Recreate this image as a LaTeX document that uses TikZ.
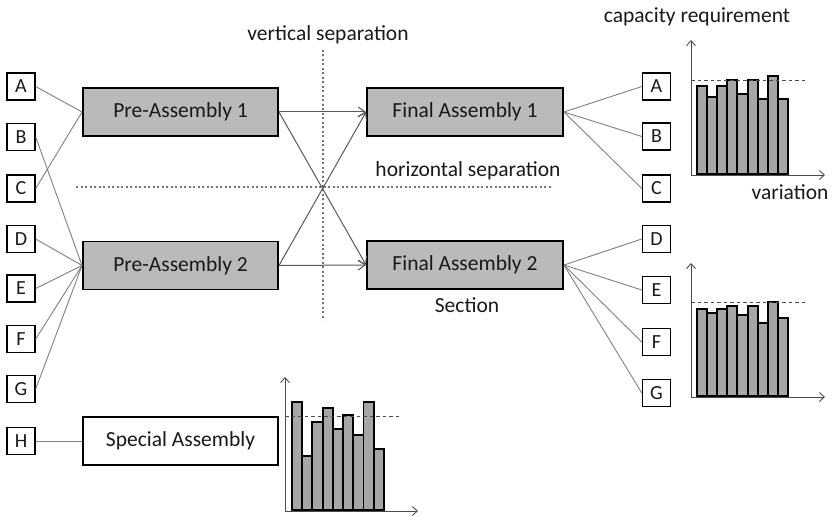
\documentclass[tikz,border=0pt]{standalone}
\usepackage{fontspec}
\setmainfont{Carlito}
\usetikzlibrary{arrows.meta}
\begin{document}
\begin{tikzpicture}[x=1pt,y=-1pt,
  every node/.style={font=\fontsize{21.5}{24}\selectfont, text=black!90},
  letterbox/.style={draw=black, line width=1.4pt, fill=white, minimum width=28pt, minimum height=27pt, inner sep=0pt, font=\fontsize{20}{22}\selectfont},
  stagebox/.style={draw=black, line width=1.9pt, fill=black!27, minimum width=195pt, minimum height=48pt, inner sep=0pt},
  feed/.style={draw=black!50, line width=0.9pt},
  flow/.style={draw=black!65, line width=1pt, -{Straight Barb[length=7pt,width=10pt]}},
  sep/.style={draw=black!55, line width=1.1pt, dash pattern=on 2pt off 2.5pt},
  limit/.style={draw=black!70, line width=0.9pt, dash pattern=on 3.5pt off 3pt},
  axis/.style={draw=black!70, line width=0.9pt, -{Straight Barb[length=5pt,width=9pt]}},
  bar/.style={draw=black, line width=1.9pt, fill=black!35}
]
\useasboundingbox (0,0) rectangle (833,516);

% separation lines and their labels
\draw[sep] (323,50) -- (323,320);
\draw[sep] (76,187) -- (552,187);
\node (vsep) at (328,35) {vertical separation};
\node (hsep) at (468,171) {horizontal separation};

% input parts
\node[letterbox] (la) at (21,86.5) {A};
\node[letterbox] (lb) at (21,137) {B};
\node[letterbox] (lc) at (21,188.5) {C};
\node[letterbox] (ld) at (21,239) {D};
\node[letterbox] (le) at (21,288.5) {E};
\node[letterbox] (lf) at (21,339) {F};
\node[letterbox] (lg) at (21,389) {G};
\node[letterbox] (lh) at (21,441) {H};

% assembly stages
\node[stagebox] (pre1) at (180.5,112) {Pre-Assembly 1};
\node[stagebox] (pre2) at (180.5,265.5) {Pre-Assembly 2};
\node[stagebox, fill=white] (spec) at (180.5,441) {Special Assembly};
\node[stagebox, minimum width=196pt] (fin1) at (465,112) {Final Assembly 1};
\node[stagebox, minimum width=196pt] (fin2) at (465,265) {Final Assembly 2};
\node (sect) at (467,305) {Section};

% output variants
\node[letterbox] (ra) at (656.5,86.5) {A};
\node[letterbox] (rb) at (656.5,136.5) {B};
\node[letterbox] (rc) at (656.5,188.5) {C};
\node[letterbox] (rd) at (656.5,239) {D};
\node[letterbox] (re) at (656.5,290) {E};
\node[letterbox] (rf) at (656.5,342) {F};
\node[letterbox] (rg) at (656.5,393) {G};

% feeding lines
\draw[feed] (la.east) -- (pre1.west);
\draw[feed] (lc.east) -- (pre1.west);
\foreach \p in {lb,ld,le,lf,lg} \draw[feed] (\p.east) -- (pre2.west);
\draw[feed] (lh.east) -- (spec.west);
\foreach \p in {ra,rb,rc} \draw[feed] (fin1.east) -- (\p.west);
\foreach \p in {rd,re,rf,rg} \draw[feed] (fin2.east) -- (\p.west);

% material flow between stages
\draw[flow] (pre1.east) -- (fin1.west);
\draw[flow] (pre2.east) -- (fin2.west);
\draw[flow] (pre1.east) -- (fin2.west);
\draw[flow] (pre2.east) -- (fin1.west);

% capacity chart for final assembly 1
\foreach \t [count=\i from 0] in {86,96.7,86,80,94,80,99.3,76,99}
  \draw[bar] (697+\i*10.11,174) rectangle (697+\i*10.11+10.11,\t);
\draw[axis] (691,175) -- (691,40);
\draw[axis] (691,175) -- (825,175);
\draw[limit] (691,80) -- (807,80);
\node (cap) at (697,17) {capacity requirement};
\node (var) at (790,192) {variation};

% capacity chart for final assembly 2
\foreach \t [count=\i from 0] in {309,313,309,306,315,306,323,302,318}
  \draw[bar] (697+\i*10.11,396) rectangle (697+\i*10.11+10.11,\t);
\draw[axis] (691,397) -- (691,263);
\draw[axis] (691,397) -- (825,397);
\draw[limit] (691,302) -- (807,302);

% capacity chart for special assembly
\foreach \t [count=\i from 0] in {401.7,456,422,408,429,415,435,401.7,449}
  \draw[bar] (292+\i*10.22,510) rectangle (292+\i*10.22+10.22,\t);
\draw[axis] (285,511) -- (285,377);
\draw[axis] (285,511) -- (418,511);
\draw[limit] (285,416) -- (400,416);
\end{tikzpicture}
\end{document}
